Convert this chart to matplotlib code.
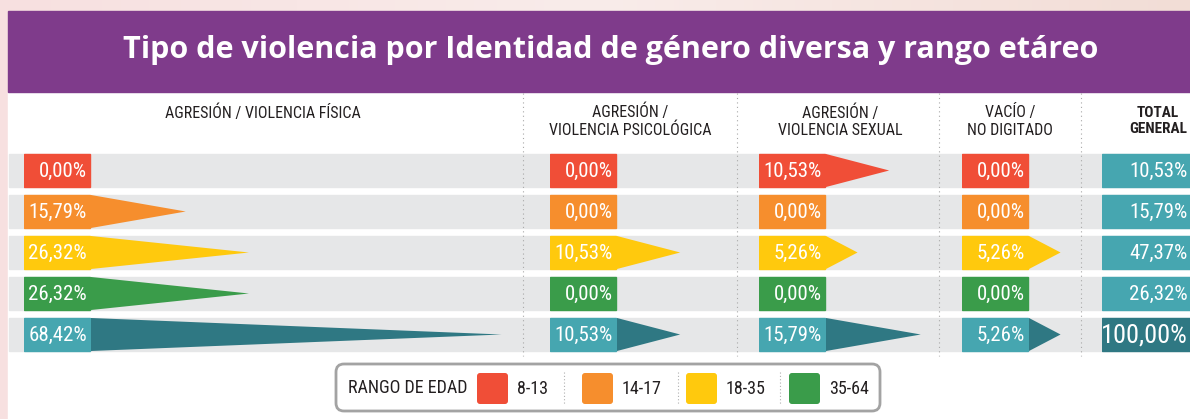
import matplotlib
matplotlib.use("Agg")
import matplotlib.pyplot as plt
import numpy as np
from matplotlib import font_manager
from matplotlib.patches import Rectangle, Polygon, FancyBboxPatch

# fuentes
names = {f.name for f in font_manager.fontManager.ttflist}
COND = next((n for n in ["Liberation Sans Narrow", "Roboto Condensed"] if n in names), "DejaVu Sans")
TITLE_FONT = "Open Sans" if "Open Sans" in names else "DejaVu Sans"

# datos
rangos = ["8-13", "14-17", "18-35", "35-64"]
columnas = ["AGRESIÓN / VIOLENCIA FÍSICA", "AGRESIÓN /\nVIOLENCIA PSICOLÓGICA",
            "AGRESIÓN /\nVIOLENCIA SEXUAL", "VACÍO /\nNO DIGITADO"]
fisica = [0.00, 15.79, 26.32, 26.32, 68.42]
psicologica = [0.00, 0.00, 10.53, 0.00, 10.53]
sexual = [10.53, 0.00, 5.26, 0.00, 15.79]
vacio = [0.00, 0.00, 5.26, 0.00, 5.26]
total = [10.53, 15.79, 47.37, 26.32, 100.00]

colores = ["#F04E37", "#F68E2D", "#FFC90D", "#3A9C4A", "#46A6B0"]
tri_colores = ["#F04E37", "#F68E2D", "#FFC90D", "#3A9C4A", "#2F7883"]
GRIS = "#E6E7E8"
MORADO = "#7F3B8B"

W, H = 1190, 419
fig = plt.figure(figsize=(W / 100, H / 100), dpi=100)
ax = fig.add_axes([0, 0, 1, 1])
ax.set_xlim(0, W)
ax.set_ylim(H, 0)
ax.axis("off")

# fondo rosado
grad = np.linspace(0, 1, 256).reshape(1, -1)
cmap = matplotlib.colors.LinearSegmentedColormap.from_list("bg", ["#F7E0E0", "#F9ECEA", "#F2DDD6"])
ax.imshow(grad, extent=[0, W, H, 0], aspect="auto", cmap=cmap, zorder=0)

# panel blanco y banner
ax.add_patch(Rectangle((8, 92), W - 8, H - 92, color="white", zorder=1))
ax.add_patch(Rectangle((8, 11), W - 8, 81, color=MORADO, zorder=1))
ax.text(611, 50, "Tipo de violencia por Identidad de género diversa y rango etáreo",
        color="white", fontsize=22, fontweight="bold", family=TITLE_FONT,
        ha="center", va="center", zorder=3)

# filas grises
fila_y = [170.5 + 41 * i for i in range(5)]
for y in fila_y:
    ax.add_patch(Rectangle((9, y - 16.5), W - 9, 33, color=GRIS, zorder=1))

# separadores punteados
for x in [523, 737, 939, 1081]:
    ax.plot([x, x], [93, 356], color="#A8A8A8", lw=0.8, ls=(0, (1, 3)), zorder=2)

# encabezados
hdr_x = [263, 630, 840, 1010]
for x, t in zip(hdr_x, columnas):
    y = 113 if "\n" not in t else 121
    ax.text(x, y, t, ha="center", va="center", fontsize=11.5, family=COND,
            color="#231F20", linespacing=1.2, zorder=3)
ax.text(1187, 121, "TOTAL\nGENERAL", ha="right", va="center", fontsize=11,
        family=COND, fontweight="bold", color="#231F20", linespacing=1.1,
        multialignment="center", zorder=3)

# columnas con triángulos (1% = 6 px)
PX = 6.0
box_x = [24, 550, 759, 962]
col_fin = [523, 737, 939, 1081]
series = [fisica, psicologica, sexual, vacio]
h = 33 / 41 / 2
for bx, fin, vals in zip(box_x, col_fin, series):
    cax = fig.add_axes([bx / W, 1 - 355 / H, (fin - bx) / W, 205 / H])
    cax.set_xlim(-67 / PX, (fin - bx - 67) / PX)
    cax.set_ylim(4.5, -0.5)
    cax.axis("off")
    cax.patch.set_alpha(0)
    for i, v in enumerate(vals):
        cax.add_patch(Rectangle((-67 / PX, i - h), 66 / PX, 2 * h, color=colores[i]))
        if v > 0:
            cax.add_patch(Polygon([(0, i - h), (v, i), (0, i + h)], closed=True,
                                  color=tri_colores[i], lw=0))
        cax.text(-4 / PX, i + 0.02, f"{v:.2f}%".replace(".", ","), ha="right", va="center",
                 color="white", fontsize=15, family=COND)

# total general
tax = fig.add_axes([1102 / W, 1 - 355 / H, 88 / W, 205 / H])
tax.set_xlim(0, 1)
tax.set_ylim(4.5, -0.5)
tax.axis("off")
tax.patch.set_alpha(0)
for i, v in enumerate(total):
    last = i == len(total) - 1
    tax.add_patch(Rectangle((0, i - h), 1, 2 * h, color="#2F7883" if last else "#46A6B0"))
    tax.text(0.97, i + 0.02, f"{v:.2f}%".replace(".", ","), ha="right", va="center",
             color="white", fontsize=19 if last else 15, family=COND)

# leyenda
ax.add_patch(FancyBboxPatch((336, 364), 544, 47, boxstyle="round,pad=0,rounding_size=8",
                            fc="white", ec="#A3A3A3", lw=2, zorder=3))
ax.text(348, 388, "RANGO DE EDAD", ha="left", va="center", fontsize=13, family=COND,
        color="#231F20", zorder=4)
sw_x = [477, 582, 686, 789]
for k, (x, lab) in enumerate(zip(sw_x, rangos)):
    ax.add_patch(FancyBboxPatch((x, 373), 31, 31, boxstyle="round,pad=0,rounding_size=3",
                                fc=colores[k], ec="none", zorder=4))
    ax.text(x + 40, 389, lab, ha="left", va="center", fontsize=13, family=COND,
            color="#231F20", zorder=4)
    if k < 3:
        sx = [564, 678, 780][k]
        ax.plot([sx, sx], [372, 404], color="#B0B0B0", lw=0.8, ls=(0, (1, 2)), zorder=4)

fig.savefig("out.png", dpi=100)
